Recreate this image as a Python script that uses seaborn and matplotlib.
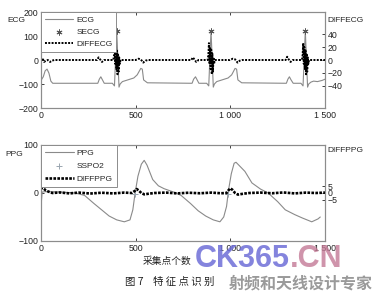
import matplotlib
matplotlib.use("Agg")
import matplotlib.pyplot as plt
import seaborn as sns
import pandas as pd

# ---------------- data ----------------
ecg_x = [0, 12, 22, 32, 42, 52, 62,
         300, 308, 316, 324, 334, 377, 388, 400, 412, 418, 430, 490, 508, 527, 535, 542, 562,
         798, 806, 816, 824, 834, 875, 886, 898, 910, 916, 928, 988, 1007, 1025, 1033, 1040, 1060,
         1296, 1304, 1312, 1320, 1332, 1373, 1384, 1396, 1408, 1414, 1426, 1440, 1460, 1485, 1500]
ecg_y = [-85, -70, -45, -38, -55, -88, -97,
         -97, -80, -70, -82, -97, -97, -108, 122, -113, -100, -90, -75, -62, -35, -38, -83, -95,
         -97, -80, -70, -82, -97, -97, -108, 122, -113, -100, -90, -75, -62, -35, -38, -83, -95,
         -97, -80, -70, -82, -97, -97, -108, 122, -113, -100, -92, -88, -90, -85, -80]

secg_x = [400, 898, 1396]
secg_y = [122, 122, 122]

diffecg_x = [0, 8, 16, 26, 36, 48, 58, 70, 200, 296, 304, 312, 322, 334,
             382, 386, 389, 392, 395, 398, 401, 404, 407, 410, 413, 416, 420,
             500, 515, 527, 540, 552, 565, 700, 794, 802, 810, 820, 832,
             880, 884, 887, 890, 893, 896, 899, 902, 905, 908, 911, 914, 918,
             998, 1013, 1025, 1038, 1050, 1063, 1200, 1292, 1300, 1308, 1318, 1330,
             1378, 1382, 1385, 1388, 1391, 1394, 1397, 1400, 1403, 1406, 1409, 1412, 1416,
             1450, 1500]
diffecg_y = [0, 3, -3, -1, 0, -3, -1, 0, 0, 0, 4, 1, -3, 0,
             0, 8, 26, -6, 20, -14, 16, -22, 10, -18, 4, -6, 0,
             0, 2, 1, -4, -1, 0, 0, 0, 4, 1, -3, 0,
             0, 8, 26, -6, 20, -14, 16, -22, 10, -18, 4, -6, 0,
             0, 2, 1, -4, -1, 0, 0, 0, 5, 1, -3, 0,
             0, 8, 26, -6, 20, -14, 16, -22, 10, -18, 4, -6, 0,
             0, 0]

ppg_x = [0, 6, 30, 100, 180, 230, 280, 320, 360, 400, 440, 470, 485, 497, 512, 530, 545, 560,
         590, 620, 650, 700, 740, 790, 830, 870, 910, 945, 965, 980, 990, 1005, 1020, 1030, 1045,
         1077, 1114, 1160, 1200, 1250, 1290, 1340, 1380, 1430, 1463, 1475]
ppg_y = [-28, 2, 3, 2, 0, -5, -22, -35, -48, -56, -60, -56, -35, 0, 35, 60, 68, 58,
         28, 15, 9, 2, -5, -22, -37, -48, -56, -60, -50, -28, 5, 40, 62, 64, 58,
         45, 21, 8, 0, -18, -35, -45, -52, -60, -54, -50]

sspo2_x = [497, 990]
sspo2_y = [-3, -3]

diffppg_x = [0, 5, 12, 25, 40, 60, 100, 150, 200, 260, 320, 380, 440, 480, 495, 505, 515, 530,
             545, 570, 600, 660, 720, 780, 840, 900, 950, 980, 990, 1000, 1010, 1025, 1040, 1070,
             1100, 1160, 1220, 1280, 1340, 1400, 1450, 1500]
diffppg_y = [3, 4, 3.5, 2, 1, 0, 0.4, -0.3, 0.3, -0.4, 0.2, -0.3, 0.3, 0, 1.5, 3, 2, 0,
             -1, -0.5, 0, 0.3, -0.3, 0.2, -0.2, 0.3, -0.2, 0, 2, 3.5, 2.5, 0, -1.2, -0.5,
             0, 0.3, -0.2, 0.4, -0.3, 0.3, 0, 0.3]

xticks = [0, 500, 1000, 1500]
xtick_labels = ["0", "500", "1 000", "1 500"]
ecg_ticks = [-200, -100, 0, 100, 200]
diffecg_ticks = [-40, -20, 0, 20, 40]
ppg_ticks = [-100, 0, 100]
diffppg_ticks = [-5, 0, 5]

# ---------------- style ----------------
sns.set_theme(style="white")
plt.rcParams["font.family"] = ["Liberation Sans", "Noto Sans CJK SC", "DejaVu Sans"]
plt.rcParams["axes.linewidth"] = 0.8

W, H = 381, 295
fig = plt.figure(figsize=(W / 100, H / 100), dpi=100)
fig.patch.set_facecolor("white")

frame_col = "#8c8c8c"
line_gray = "#8a8a8a"
tick_fs = 6.3


def make_axes(top_px, bot_px):
    ax = fig.add_axes([41 / W, 1 - bot_px / H, (325 - 41) / W, (bot_px - top_px) / H])
    ax2 = ax.twinx()
    for a in (ax, ax2):
        for s in a.spines.values():
            s.set_color(frame_col)
            s.set_linewidth(0.8)
        a.set_xlim(0, 1500)
    ax.tick_params(axis="both", direction="in", length=2.5, width=0.6, colors="#222222",
                   labelsize=tick_fs, pad=2, top=True, left=True, bottom=True)
    ax2.tick_params(axis="y", direction="in", length=2.5, width=0.6, colors="#222222",
                    labelsize=tick_fs, pad=2, right=True)
    ax.set_xticks(xticks)
    ax.set_xticklabels(xtick_labels)
    return ax, ax2


# ---------------- top: ECG ----------------
ax, ax2 = make_axes(12, 108)
d_ecg = pd.DataFrame({"x": ecg_x, "y": ecg_y})
d_secg = pd.DataFrame({"x": secg_x, "y": secg_y})
d_decg = pd.DataFrame({"x": diffecg_x, "y": diffecg_y})

sns.lineplot(data=d_ecg, x="x", y="y", ax=ax, color=line_gray, lw=0.8, label="ECG",
             legend=False, sort=False)
sns.scatterplot(data=d_secg, x="x", y="y", ax=ax, marker=(6, 2, 0), s=14, color="#555555",
                linewidth=0.7, label="SECG", legend=False, zorder=5)
sns.lineplot(data=d_decg, x="x", y="y", ax=ax2, color="black", lw=1.4,
             linestyle=(0, (1, 0.7)), label="DIFFECG", legend=False, sort=False)

ax.set_ylim(-200, 200)
ax.set_yticks(ecg_ticks)
ax2.set_ylim(-74, 74)
ax2.set_yticks(diffecg_ticks)
for a in (ax, ax2):
    a.set_xlabel("")
    a.set_ylabel("")

h1, l1 = ax.get_legend_handles_labels()
h2, l2 = ax2.get_legend_handles_labels()
leg = ax2.legend(h1 + h2, l1 + l2, loc="upper left", borderaxespad=0, fontsize=6,
                 frameon=True, fancybox=False, framealpha=1, edgecolor=frame_col,
                 handlelength=3.4, handletextpad=0.4, labelspacing=0.55, borderpad=0.45)
leg.get_frame().set_linewidth(0.7)

fig.text(7 / W, 1 - 20 / H, "ECG", fontsize=6, ha="left", va="center")
fig.text(327 / W, 1 - 21 / H, "DIFFECG", fontsize=6, ha="left", va="center")

# ---------------- bottom: PPG ----------------
bx, bx2 = make_axes(145, 241)
d_ppg = pd.DataFrame({"x": ppg_x, "y": ppg_y})
d_sspo = pd.DataFrame({"x": sspo2_x, "y": sspo2_y})
d_dppg = pd.DataFrame({"x": diffppg_x, "y": diffppg_y})

sns.lineplot(data=d_ppg, x="x", y="y", ax=bx, color=line_gray, lw=0.8, label="PPG",
             legend=False, sort=False)
sns.scatterplot(data=d_sspo, x="x", y="y", ax=bx, marker="+", s=14, color="#9aa6b0",
                linewidth=0.7, label="SSPO2", legend=False, zorder=5)
sns.lineplot(data=d_dppg, x="x", y="y", ax=bx2, color="black", lw=1.9,
             linestyle=(0, (1, 0.5)), label="DIFFPPG", legend=False, sort=False)

bx.set_ylim(-100, 100)
bx.set_yticks(ppg_ticks)
bx2.set_ylim(-36, 36)
bx2.set_yticks(diffppg_ticks)
for a in (bx, bx2):
    a.set_xlabel("")
    a.set_ylabel("")

h1, l1 = bx.get_legend_handles_labels()
h2, l2 = bx2.get_legend_handles_labels()
leg2 = bx2.legend(h1 + h2, l1 + l2, loc="upper left", borderaxespad=0, fontsize=6,
                  frameon=True, fancybox=False, framealpha=1, edgecolor=frame_col,
                  handlelength=3.4, handletextpad=0.4, labelspacing=0.6, borderpad=0.5)
leg2.get_frame().set_linewidth(0.7)

fig.text(5 / W, 1 - 155 / H, "PPG", fontsize=6, ha="left", va="center")
fig.text(327 / W, 1 - 150 / H, "DIFFPPG", fontsize=6, ha="left", va="center")

# ---------------- captions ----------------
fig.text(167 / W, 1 - 261 / H, "采集点个数", fontsize=7, ha="center", va="center",
         family=["Noto Sans CJK SC", "DejaVu Sans"], color="#222222")
fig.text(170 / W, 1 - 282 / H, "图 7    特 征 点 识 别", fontsize=7.5, ha="center",
         va="center", family=["Noto Sans CJK SC", "DejaVu Sans"], color="#222222")

# ---------------- watermark ----------------
fig.text(195 / W, 1 - 259 / H, "CK365", fontsize=22, fontweight="bold", color="#6e6ed8",
         alpha=0.85, ha="left", va="center", family=["Liberation Sans"])
fig.text(290 / W, 1 - 259 / H, ".CN", fontsize=22, fontweight="bold", color="#c47a96",
         alpha=0.8, ha="left", va="center", family=["Liberation Sans"])
fig.text(301 / W, 1 - 283 / H, "射频和天线设计专家", fontsize=11.5, fontweight="bold",
         color="#9a9a9a", ha="center", va="center", family=["Noto Sans CJK SC"])

fig.savefig("out.png", dpi=100, facecolor="white")
